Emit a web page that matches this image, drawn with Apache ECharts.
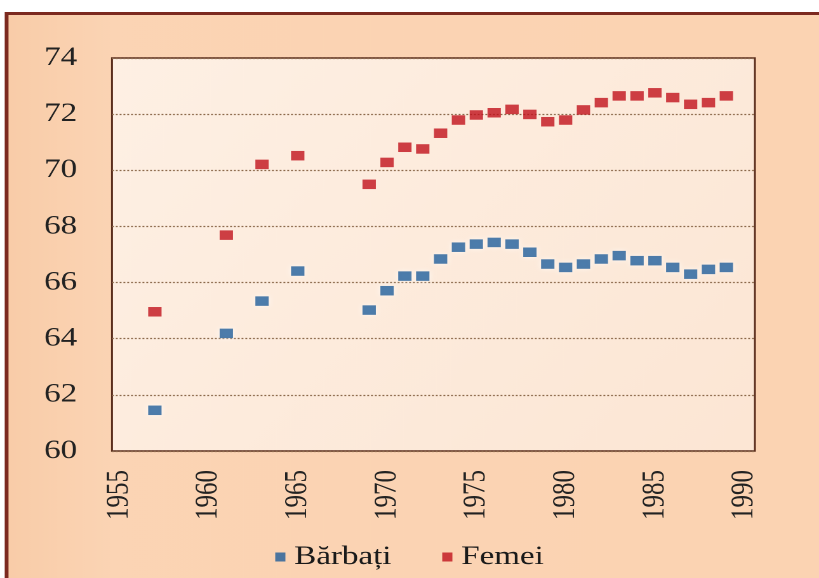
<!DOCTYPE html>
<html>
<head>
<meta charset="utf-8">
<script src="https://cdn.jsdelivr.net/npm/echarts@6/dist/echarts.min.js"></script>
<style>
  html, body { margin: 0; padding: 0; background: #fff; overflow: hidden; }
  /* the original picture is an Excel chart stretched sideways, so draw narrow and widen it */
  #chart { width: 645px; height: 578px; transform: scaleX(1.2698); transform-origin: 0 0; }
</style>
</head>
<body>
<div id="chart"></div>
<script>
// years of the observations
const years = [1957, 1961, 1963, 1965, 1969, 1970, 1971, 1972, 1973, 1974, 1975, 1976, 1977,
               1978, 1979, 1980, 1981, 1982, 1983, 1984, 1985, 1986, 1987, 1988, 1989];
const barbati = [61.45, 64.19, 65.34, 66.41, 65.02, 65.71, 66.23, 66.23, 66.84, 67.26, 67.37, 67.43, 67.37,
                 67.08, 66.66, 66.54, 66.66, 66.84, 66.96, 66.78, 66.78, 66.54, 66.30, 66.47, 66.54];
const femei = [64.96, 67.69, 70.21, 70.52, 69.50, 70.28, 70.82, 70.76, 71.32, 71.79, 71.97, 72.05, 72.17,
               71.99, 71.73, 71.79, 72.15, 72.41, 72.65, 72.65, 72.76, 72.59, 72.35, 72.41, 72.65];
const xTicks = [1955, 1960, 1965, 1970, 1975, 1980, 1985, 1990];

const pairs = (xs, ys) => xs.map((x, i) => [x, ys[i]]);

const chart = echarts.init(document.getElementById('chart'), null, { devicePixelRatio: 2 });
const serif = '"Liberation Serif", "DejaVu Serif", serif';

let option = {
    backgroundColor: '#fff',
    animation: false,
    graphic: [
        {
            type: 'rect',
            z: -10,
            shape: { x: 5.2, y: 13.5, width: 700, height: 580 },
            style: {
                fill: new echarts.graphic.LinearGradient(0, 0, 1, 0, [
                    { offset: 0, color: '#F9CCA8' },
                    { offset: 0.12, color: '#FBD4B4' },
                    { offset: 1, color: '#FBD3B2' }
                ]),
                stroke: '#7C2A20',
                lineWidth: 3
            }
        }
    ],
    grid: {
        left: 88.2,
        right: 50.5,
        top: 58,
        bottom: 127,
        show: true,
        backgroundColor: new echarts.graphic.LinearGradient(0, 0, 1, 1, [
            { offset: 0, color: '#FEF0E4' },
            { offset: 1, color: '#FCE6D4' }
        ]),
        borderColor: '#5A2D1C',
        borderWidth: 1.5
    },
    xAxis: {
        type: 'value',
        min: 1954.6,
        max: 1990.6,
        axisLine: { show: false },
        axisTick: { show: false },
        splitLine: { show: false },
        axisLabel: {
            customValues: xTicks,
            formatter: (v) => String(v),
            rotate: 90,
            margin: 19,
            fontFamily: serif,
            fontSize: 25,
            color: '#222'
        }
    },
    yAxis: {
        type: 'value',
        min: 60,
        max: 74,
        interval: 2,
        axisLine: { show: false },
        axisTick: { show: false },
        axisLabel: {
            margin: 27.5,
            fontFamily: serif,
            fontSize: 26,
            color: '#222'
        },
        splitLine: {
            lineStyle: { type: [1.5, 1.5], color: '#8C6A4C', width: 1.2 }
        }
    },
    legend: {
        left: 'center',
        top: 539,
        icon: 'rect',
        itemWidth: 8,
        itemHeight: 9,
        itemGap: 40,
        textStyle: { fontFamily: serif, fontSize: 26, color: '#1a1a1a', padding: [0, 0, 0, 2] },
        data: ['Bărbați', 'Femei']
    },
    series: [
        {
            name: 'Bărbați',
            type: 'scatter',
            symbol: 'rect',
            symbolSize: [10.5, 9.5],
            data: pairs(years, barbati),
            itemStyle: {
                color: '#1F5C99',
                shadowColor: 'rgba(255,255,255,0.9)',
                shadowBlur: 5
            }
        },
        {
            name: 'Femei',
            type: 'scatter',
            symbol: 'rect',
            symbolSize: [10.5, 9.5],
            data: pairs(years, femei),
            itemStyle: {
                color: '#C0121B'
            }
        }
    ]
};
chart.setOption(option);
</script>
</body>
</html>
